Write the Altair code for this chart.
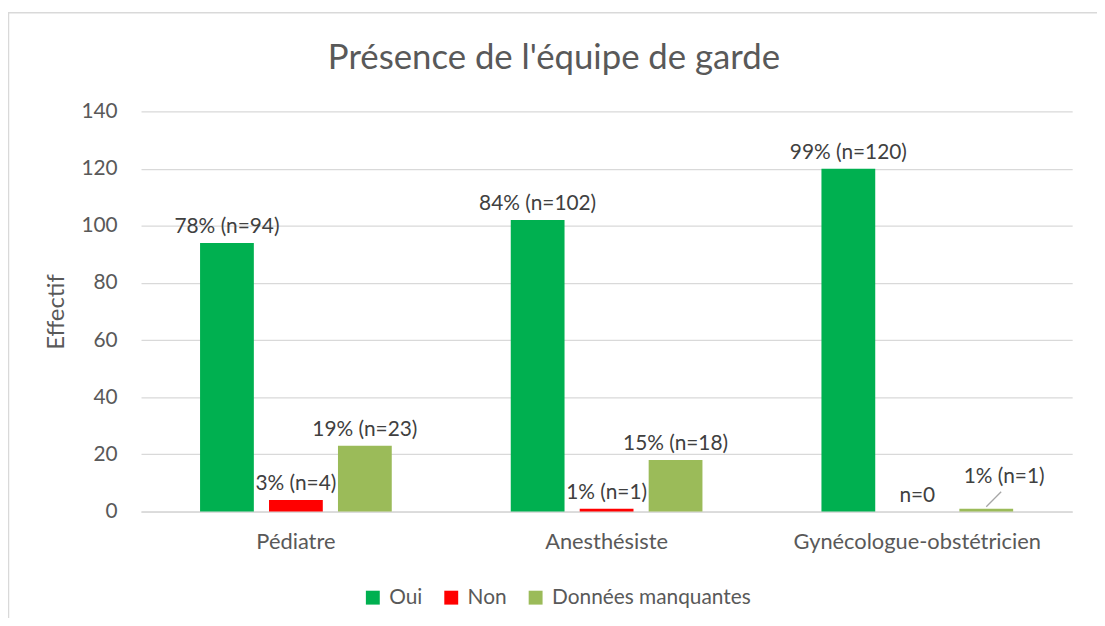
import altair as alt
import pandas as pd

categories = ["Pédiatre", "Anesthésiste", "Gynécologue-obstétricien"]
series = ["Oui", "Non", "Données manquantes"]
oui = [94, 102, 120]
non = [4, 1, 0]
manquantes = [23, 18, 1]
labels_oui = ["78% (n=94)", "84% (n=102)", "99% (n=120)"]
labels_non = ["3% (n=4)", "1% (n=1)", "n=0"]
labels_manquantes = ["19% (n=23)", "15% (n=18)", "1% (n=1)"]
colors = ["#00B050", "#FF0000", "#9BBB59"]
title_text = "Présence de l'équipe de garde"

rows = []
for i, c in enumerate(categories):
    for s, vals, labs in [("Oui", oui, labels_oui), ("Non", non, labels_non),
                          ("Données manquantes", manquantes, labels_manquantes)]:
        rows.append({"cat": c, "serie": s, "val": vals[i], "label": labs[i],
                     "callout": (c == "Gynécologue-obstétricien" and s == "Données manquantes")})
df = pd.DataFrame(rows)

FONT = "Lato"
TXT = "#595959"
FS = 21

x_enc = alt.X("cat:N", sort=categories, title=None,
              scale=alt.Scale(paddingInner=0.383, paddingOuter=0.19),
              axis=alt.Axis(labelFontSize=22, labelColor=TXT, labelFont=FONT, labelPadding=20,
                            labelLimit=0, ticks=False, domainColor="#d9d9d9", domainWidth=1.5,
                            labelAngle=0))
xo_enc = alt.XOffset("serie:N", sort=series, scale=alt.Scale(paddingInner=0.22, paddingOuter=0))
y_enc = alt.Y("val:Q", title="Effectif",
              scale=alt.Scale(domain=[0, 140]),
              axis=alt.Axis(values=[0, 20, 40, 60, 80, 100, 120, 140], labelFontSize=FS,
                            labelColor=TXT, labelFont=FONT, labelPadding=24, ticks=False, domain=False,
                            gridColor="#d9d9d9", gridWidth=1.3, titleFontSize=24, titleColor=TXT,
                            titleFont=FONT, titleFontWeight="normal", titlePadding=13))

base = alt.Chart(df)

bars = base.mark_bar().encode(
    x=x_enc, xOffset=xo_enc, y=y_enc,
    color=alt.Color("serie:N", sort=series, scale=alt.Scale(domain=series, range=colors),
                    legend=alt.Legend(title=None, orient="none", legendX=223, legendY=479,
                                      direction="horizontal", symbolType="square", symbolSize=196,
                                      labelFontSize=FS, labelColor=TXT, labelFont=FONT, labelLimit=0,
                                      columnPadding=18, symbolOffset=0, labelOffset=6,
                                      symbolStrokeWidth=0)),
)

text = base.transform_filter("!datum.callout").mark_text(
    baseline="middle", dy=-16, fontSize=FS, font=FONT, color="#404040"
).encode(x=alt.X("cat:N", sort=categories), xOffset=xo_enc, y="val:Q", text="label:N")

callout_text = base.transform_filter("datum.callout").mark_text(
    baseline="middle", dx=18, dy=-32, fontSize=FS, font=FONT, color="#404040"
).encode(x=alt.X("cat:N", sort=categories), xOffset=xo_enc, y="val:Q", text="label:N")

leader = base.transform_filter("datum.callout").mark_point(
    shape="M0,0L1,-1", size=900, stroke="#a6a6a6", strokeWidth=1.3, filled=False, opacity=1,
    yOffset=-2
).encode(x=alt.X("cat:N", sort=categories), xOffset=xo_enc, y="val:Q")

one = pd.DataFrame({"t": [title_text]})
frame = alt.Chart(one).mark_rect(fill=None, stroke="#d9d9d9", strokeWidth=1.5).encode(
    x=alt.value(-133.5), x2=alt.value(1200), y=alt.value(-99.5), y2=alt.value(700)
)
title = alt.Chart(one).mark_text(fontSize=35, font=FONT, color=TXT, align="center",
                                 baseline="alphabetic").encode(
    x=alt.value(416), y=alt.value(-43), text="t:N"
)

chart = alt.layer(frame, title, bars, text, callout_text, leader).properties(
    width=938, height=403,
    autosize=alt.AutoSizeParams(type="none"),
    padding={"left": 134, "top": 102, "right": 25, "bottom": 105},
).configure_view(stroke=None)

chart.save("out.html", embed_options={"renderer": "svg", "actions": False})
